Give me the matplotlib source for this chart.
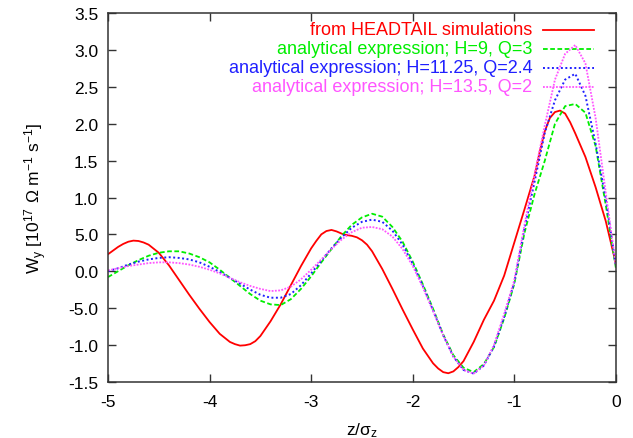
import numpy as np
import matplotlib
matplotlib.use("Agg")
import matplotlib.pyplot as plt

plt.rcParams['font.family'] = ['Liberation Sans', 'DejaVu Sans']
plt.rcParams['mathtext.fontset'] = 'custom'
plt.rcParams['mathtext.rm'] = 'Liberation Sans'
plt.rcParams['mathtext.default'] = 'regular'

# z/sigma_z sampling of the analytical curves
z = np.linspace(-5.0, 0.0, 51)

# wake from HEADTAIL simulations (read at its own z points)
z_headtail = [-5.0, -4.9, -4.85, -4.8, -4.75, -4.7, -4.65, -4.6, -4.5, -4.4,
              -4.3, -4.2, -4.1, -4.0, -3.9, -3.8, -3.75, -3.7, -3.65, -3.6,
              -3.55, -3.5, -3.4, -3.3, -3.2, -3.1, -3.0, -2.95, -2.9, -2.85,
              -2.8, -2.75, -2.7, -2.65, -2.6, -2.55, -2.5, -2.45, -2.4, -2.3,
              -2.2, -2.1, -2.0, -1.9, -1.8, -1.75, -1.7, -1.65, -1.6, -1.55,
              -1.5, -1.4, -1.3, -1.2, -1.1, -1.0, -0.9, -0.8, -0.75, -0.7,
              -0.65, -0.6, -0.55, -0.5, -0.45, -0.4, -0.3, -0.2, -0.1, 0.0]
w_headtail = [0.23, 0.33, 0.37, 0.40, 0.415, 0.41, 0.39, 0.36, 0.25, 0.08,
              -0.12, -0.32, -0.51, -0.69, -0.85, -0.96, -0.99, -1.01, -1.005, -0.99,
              -0.95, -0.88, -0.68, -0.45, -0.19, 0.07, 0.31, 0.41, 0.50, 0.545,
              0.56, 0.54, 0.51, 0.49, 0.48, 0.46, 0.42, 0.36, 0.27, 0.03,
              -0.24, -0.52, -0.79, -1.05, -1.25, -1.32, -1.37, -1.385, -1.36, -1.30,
              -1.22, -0.96, -0.66, -0.40, -0.06, 0.39, 0.84, 1.30, 1.62, 1.90,
              2.08, 2.16, 2.18, 2.14, 2.02, 1.87, 1.55, 1.14, 0.68, 0.10]

# analytical expression, H=9, Q=3
w_h9 = [-0.08, 0.00, 0.08, 0.15, 0.21, 0.25, 0.27, 0.27, 0.24, 0.19,
        0.12, 0.02, -0.09, -0.20, -0.31, -0.40, -0.45, -0.46, -0.38, -0.24,
        -0.07, 0.12, 0.30, 0.48, 0.63, 0.73, 0.78, 0.74, 0.60, 0.40,
        0.13, -0.18, -0.51, -0.86, -1.14, -1.31, -1.37, -1.26, -1.03, -0.64,
        -0.17, 0.52, 1.05, 1.50, 2.00, 2.24, 2.27, 2.15, 1.70, 0.90,
        0.04]

# analytical expression, H=11.25, Q=2.4
w_h1125 = [0.00, 0.04, 0.09, 0.13, 0.16, 0.18, 0.19, 0.18, 0.16, 0.12,
           0.06, -0.01, -0.09, -0.17, -0.25, -0.32, -0.36, -0.36, -0.31, -0.19,
           -0.03, 0.14, 0.31, 0.46, 0.59, 0.67, 0.70, 0.67, 0.55, 0.36,
           0.10, -0.20, -0.53, -0.87, -1.16, -1.34, -1.39, -1.28, -1.02, -0.62,
           -0.15, 0.58, 1.22, 1.88, 2.32, 2.60, 2.68, 2.38, 1.73, 0.98,
           0.07]

# analytical expression, H=13.5, Q=2
w_h135 = [0.01, 0.04, 0.07, 0.09, 0.11, 0.12, 0.12, 0.11, 0.09, 0.06,
          0.02, -0.03, -0.09, -0.15, -0.20, -0.24, -0.27, -0.26, -0.21, -0.11,
          0.02, 0.16, 0.30, 0.43, 0.53, 0.59, 0.60, 0.57, 0.47, 0.30,
          0.07, -0.22, -0.54, -0.87, -1.16, -1.34, -1.39, -1.28, -1.00, -0.58,
          -0.12, 0.63, 1.32, 1.98, 2.60, 2.95, 3.07, 2.82, 2.08, 1.07,
          0.07]

labels = ['from HEADTAIL simulations',
          'analytical expression; H=9, Q=3',
          'analytical expression; H=11.25, Q=2.4',
          'analytical expression; H=13.5, Q=2']

yticks = [-1.5, -1.0, -0.5, 0.0, 0.5, 1.0, 1.5, 2.0, 2.5, 3.0, 3.5]
# tick labels exactly as printed on the original figure
ytick_labels = ['-1.5', '-1.0', '-5.0', '0.0', '5.0', '1.0', '1.5', '2.0', '2.5', '3.0', '3.5']
xticks = [-5, -4, -3, -2, -1, 0]

fig = plt.figure(figsize=(6.33, 4.39), dpi=100)
ax = fig.add_axes([0.1706, 0.1282, 0.8024, 0.8392])

xs = [z_headtail, z, z, z]
series = [w_headtail, w_h9, w_h1125, w_h135]
styles = [dict(color='#ff0000', lw=1.3, ls='-'),
          dict(color='#00ee00', lw=1.3, dashes=(2.6, 1.4)),
          dict(color='#2020ff', lw=1.4, dashes=(1.0, 1.3)),
          dict(color='#ff55ff', lw=1.3, dashes=(1.0, 0.8))]

leg_y = [0.956, 0.904, 0.852, 0.801]
for zz, vals, st, lab, ly in zip(xs, series, styles, labels, leg_y):
    ax.plot(zz, vals, **st)
    # gnuplot-like key: right aligned text followed by sample line
    ax.plot([0.856, 0.956], [ly, ly], transform=ax.transAxes, **st)
    ax.text(0.836, ly, lab, transform=ax.transAxes, ha='right', va='center',
            fontsize=13, color=st['color'])

ax.set_xlim(-5, 0)
ax.set_ylim(-1.5, 3.5)
ax.set_xticks(xticks)
ax.set_xticklabels([str(t) for t in xticks])
ax.set_yticks(yticks)
ax.set_yticklabels(ytick_labels)
ax.tick_params(direction='in', length=6, width=1, color='#333333',
               top=True, right=True, labelsize=12.5)
ax.tick_params(axis='x', pad=9)
ax.tick_params(axis='y', pad=7)
for sp in ax.spines.values():
    sp.set_color('#333333')
    sp.set_linewidth(1.1)

ax.set_xlabel(r'z/$\sigma_z$', fontsize=12.5, labelpad=8)
ax.set_ylabel(r'W$_y$ [10$^{17}$ $\Omega$ m$^{-1}$ s$^{-1}$]', fontsize=12.5, labelpad=14)

fig.savefig('out.png', dpi=100)
